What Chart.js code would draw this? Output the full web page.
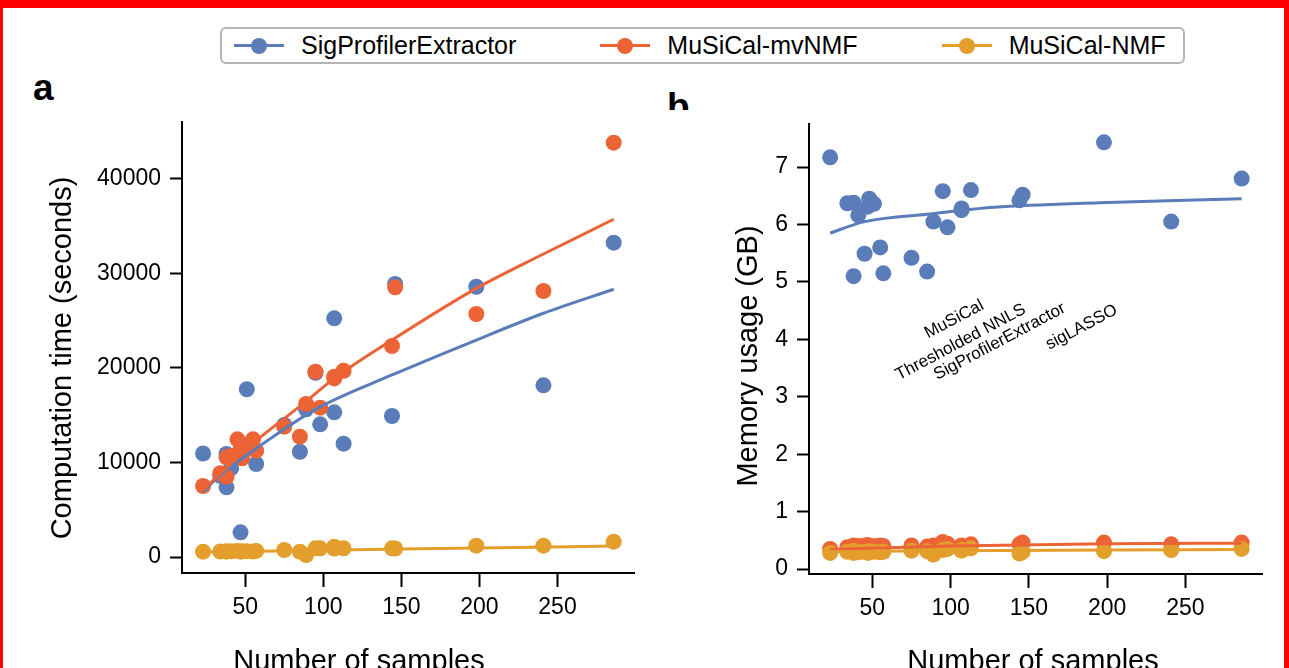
<!DOCTYPE html>
<html>
<head>
<meta charset="utf-8">
<script src="https://cdn.jsdelivr.net/npm/chart.js@4"></script>
<style>
  html, body { margin: 0; padding: 0; background: #fff; }
  body { width: 1289px; height: 668px; position: relative; overflow: hidden;
         font-family: "Liberation Sans", Arial, Helvetica, sans-serif; color: #000; }
  #frame { position: absolute; left: 0; top: 0; width: 1289px; height: 720px; box-sizing: border-box;
           border: solid #ff0000; border-width: 8px 5px 8px 3px; pointer-events: none; z-index: 10; }
  .panel-label { position: absolute; font-weight: bold; font-size: 37px; line-height: 37px; }
  #clipB { position: absolute; left: 650px; top: 0; width: 100px; height: 110px; overflow: hidden; }
  #legend { position: absolute; left: 220px; top: 27px; width: 965px; height: 37px; box-sizing: border-box;
            border: 2px solid #b5b5b5; border-radius: 6px; display: flex; align-items: center;
            padding-left: 12px; gap: 84px; font-size: 25px; }
  .item { display: flex; align-items: center; gap: 17px; white-space: nowrap; }
  .mark { position: relative; width: 50px; height: 16px; }
  .mark .ln { position: absolute; left: 0; right: 0; top: 6.5px; height: 3px; }
  .mark .dot { position: absolute; left: 17px; top: 0; width: 16px; height: 16px; border-radius: 50%; }
  canvas { position: absolute; }
</style>
</head>
<body>
<div id="frame"></div>
<div id="legend"></div>
<div class="panel-label" style="left:33px; top:69px;">a</div>
<div id="clipB"><div class="panel-label" style="left:17px; top:88px;">b</div></div>
<canvas id="timeChart" width="640" height="600" style="left:10px; top:110px;"></canvas>
<canvas id="memChart" width="629" height="600" style="left:660px; top:110px;"></canvas>
<script>
// number of samples in each benchmark run
const samples = [23, 34, 38, 38, 41, 45, 47, 48, 51, 55, 57, 75, 85, 89, 95, 98, 107, 107, 113, 144, 146, 198, 241, 286];

// computation time (seconds)
const timeSPE   = [10950, 8600, 7370, 10900, 9400, 10600, 2610, 11200, 17750, 11500, 9840, 13970, 11140, 15630, 19500, 14040, 15310, 25260, 11990, 14920, 28890, 28600, 18170, 33260];
const timeMvNMF = [7510, 8860, 8500, 10550, 10700, 12450, 11500, 10440, 11850, 12450, 11250, 13790, 12730, 16190, 19610, 15800, 19080, 18900, 19710, 22330, 28540, 25710, 28150, 43840];
const timeNMF   = [560, 580, 560, 620, 600, 640, 560, 600, 620, 580, 640, 740, 560, 210, 920, 920, 1090, 900, 920, 920, 900, 1200, 1200, 1620];

// memory usage (GB)
const memSPE   = [7.17, 6.37, 6.38, 5.10, 6.16, 5.49, 6.31, 6.45, 6.36, 5.60, 5.15, 5.42, 5.18, 6.05, 6.58, 5.95, 6.28, 6.25, 6.60, 6.42, 6.52, 7.43, 6.05, 6.80];
const memMvNMF = [0.35, 0.38, 0.41, 0.40, 0.40, 0.41, 0.42, 0.40, 0.40, 0.41, 0.40, 0.41, 0.39, 0.41, 0.47, 0.44, 0.40, 0.41, 0.43, 0.43, 0.46, 0.46, 0.43, 0.46];
const memNMF   = [0.28, 0.30, 0.28, 0.32, 0.29, 0.30, 0.28, 0.31, 0.30, 0.29, 0.30, 0.32, 0.31, 0.25, 0.33, 0.35, 0.33, 0.32, 0.36, 0.27, 0.30, 0.31, 0.33, 0.35];

// fitted trend curves
const fitTimeSPEx   = [23, 33, 65, 97, 144, 198, 241, 286];
const fitTimeSPE    = [6900, 8500, 12400, 15800, 19260, 22960, 25790, 28330];
const fitTimeMvNMFx = [23, 55, 88, 107, 144, 198, 241, 286];
const fitTimeMvNMF  = [7100, 12030, 16330, 18900, 22960, 28430, 32060, 35740];
const fitTimeNMFx   = [23, 100, 200, 286];
const fitTimeNMF    = [530, 710, 960, 1160];
const fitMemSPEx    = [23, 45, 85, 128, 195, 286];
const fitMemSPE     = [5.85, 6.05, 6.18, 6.30, 6.38, 6.45];
const fitMemMvNMFx  = [23, 100, 200, 286];
const fitMemMvNMF   = [0.34, 0.40, 0.44, 0.45];
const fitMemNMFx    = [23, 100, 200, 286];
const fitMemNMF     = [0.30, 0.32, 0.33, 0.34];

const seriesNames  = ['SigProfilerExtractor', 'MuSiCal-mvNMF', 'MuSiCal-NMF'];
const seriesColors = ['#5a7dba', '#ec6436', '#e39e2b'];

const xTicks    = [50, 100, 150, 200, 250];
const timeTicks = [0, 10000, 20000, 30000, 40000];
const memTicks  = [0, 1, 2, 3, 4, 5, 6, 7];
const methodNames = ['MuSiCal', 'Thresholded NNLS', 'SigProfilerExtractor', 'sigLASSO'];

// legend shared by both panels
const legend = document.getElementById('legend');
seriesNames.forEach((name, i) => {
  const item = document.createElement('div');
  item.className = 'item';
  item.innerHTML = '<div class="mark"><div class="ln" style="background:' + seriesColors[i] +
    '"></div><div class="dot" style="background:' + seriesColors[i] + '"></div></div><span>' + name + '</span>';
  legend.appendChild(item);
});

const FONT = '"Liberation Sans", Arial, Helvetica, sans-serif';

function pts(xs, ys) { return xs.map((x, i) => ({ x: x, y: ys[i] })); }

function scatterSet(xs, ys, color, order) {
  return { data: pts(xs, ys), backgroundColor: color, borderWidth: 0,
           pointRadius: 8, pointHoverRadius: 8, order: order };
}
function fitSet(xs, ys, color, order) {
  return { data: pts(xs, ys), borderColor: color, borderWidth: 3, showLine: true,
           pointRadius: 0, cubicInterpolationMode: 'monotone', order: order };
}

// free text drawn on the canvas: axis titles and rotated method names
function textPlugin(items) {
  return {
    id: 'panelText',
    afterDraw(chart) {
      const ctx = chart.ctx;
      items.forEach(t => {
        let x = t.x, y = t.y;
        if (t.at) {
          x = chart.scales.x.getPixelForValue(t.at[0]);
          y = chart.scales.y.getPixelForValue(t.at[1]);
        }
        ctx.save();
        ctx.fillStyle = '#000';
        ctx.font = t.font;
        ctx.translate(x, y);
        ctx.rotate(t.angle || 0);
        ctx.textAlign = t.align || 'center';
        ctx.textBaseline = t.baseline || 'middle';
        ctx.fillText(t.text, 0, 0);
        ctx.restore();
      });
    }
  };
}

function axisOpts(ticks, min, max, isY, size) {
  return {
    type: 'linear', min: min, max: max,
    afterBuildTicks: s => { s.ticks = ticks.map(v => ({ value: v })); },
    afterFit: s => {
      // fixed plot box: no extra room reserved for half tick labels
      if (isY) { s.width = size; s.paddingTop = 0; s.paddingBottom = 0; }
      else { s.height = size; s.paddingLeft = 0; s.paddingRight = 0; }
    },
    border: { display: true, color: '#000', width: 2 },
    grid: { drawOnChartArea: false, drawTicks: true, tickLength: isY ? 12 : 14, tickWidth: 2, tickColor: '#000' },
    ticks: { color: '#000', font: { family: FONT, size: 23 }, padding: isY ? 9 : 7, callback: v => String(v) }
  };
}

function makePanel(id, sets, fits, yTicks, yMin, yMax, yWidth, xHeight, pad, texts) {
  const datasets = [];
  sets.forEach((ys, i) => datasets.push(scatterSet(samples, ys, seriesColors[i], 6 - i)));
  fits.forEach((f, i) => datasets.push(fitSet(f[0], f[1], seriesColors[i], 3 - i)));
  return new Chart(document.getElementById(id), {
    type: 'scatter',
    data: { datasets: datasets },
    options: {
      responsive: false, animation: false, events: [],
      layout: { padding: pad },
      scales: {
        x: axisOpts(xTicks, 9.5, 299, false, xHeight),
        y: axisOpts(yTicks, yMin, yMax, true, yWidth)
      },
      plugins: { legend: { display: false }, tooltip: { enabled: false } }
    },
    plugins: [textPlugin(texts)]
  });
}

const titleFont = '29px ' + FONT;

makePanel('timeChart', [timeSPE, timeMvNMF, timeNMF],
  [[fitTimeSPEx, fitTimeSPE], [fitTimeMvNMFx, fitTimeMvNMF], [fitTimeNMFx, fitTimeNMF]],
  timeTicks, -1693, 46030, 172, 137, { top: 12, right: 16, left: 0, bottom: 0 },
  [
    { text: 'Computation time (seconds)', x: 53, y: 248, angle: -Math.PI / 2, font: titleFont },
    { text: 'Number of samples', x: 349, y: 560, baseline: 'alphabetic', font: titleFont }
  ]);

const labelAngle = -28 * Math.PI / 180;
const labelFont = '17px ' + FONT;
makePanel('memChart', [memSPE, memMvNMF, memNMF],
  [[fitMemSPEx, fitMemSPE], [fitMemMvNMFx, fitMemMvNMF], [fitMemNMFx, fitMemNMF]],
  memTicks, -0.087, 7.75, 149, 136, { top: 14, right: 27, left: 0, bottom: 0 },
  [
    { text: 'Memory usage (GB)', x: 89, y: 246, angle: -Math.PI / 2, font: titleFont },
    { text: 'Number of samples', x: 373, y: 560, baseline: 'alphabetic', font: titleFont },
    { text: methodNames[0], at: [120.4, 4.61], angle: labelAngle, align: 'right', font: labelFont },
    { text: methodNames[1], at: [147.2, 4.54], angle: labelAngle, align: 'right', font: labelFont },
    { text: methodNames[2], at: [172.7, 4.56], angle: labelAngle, align: 'right', font: labelFont },
    { text: methodNames[3], at: [205.9, 4.53], angle: labelAngle, align: 'right', font: labelFont }
  ]);
</script>
</body>
</html>
